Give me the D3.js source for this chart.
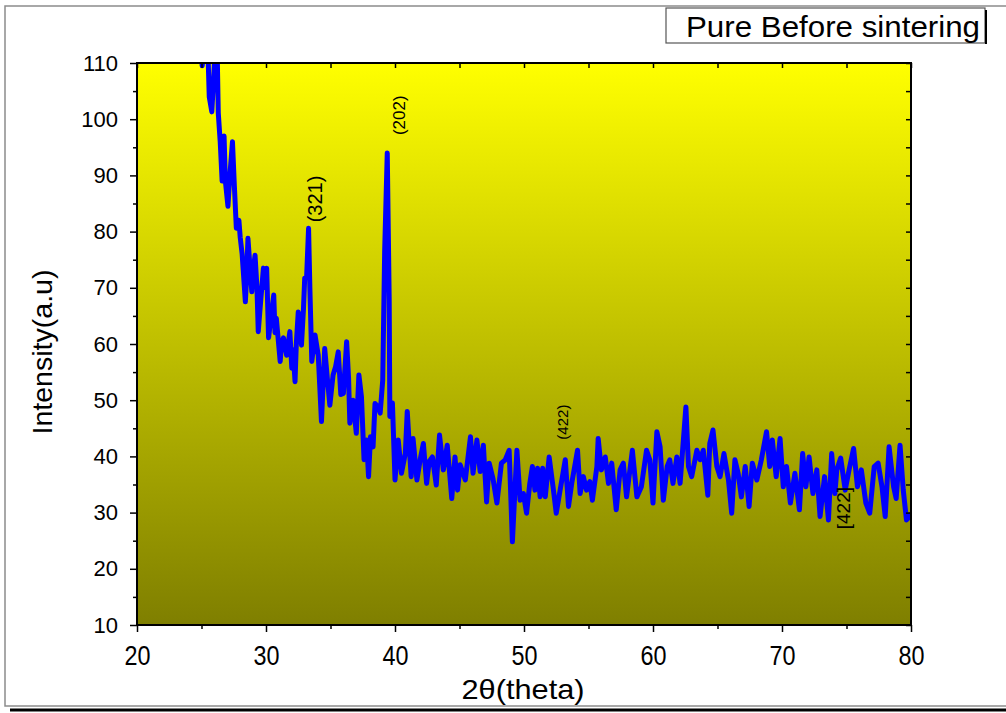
<!DOCTYPE html>
<html>
<head>
<meta charset="utf-8">
<script src="https://cdn.jsdelivr.net/npm/d3@7"></script>
<style>
  body { margin: 0; background: #fff; }
  text { font-family: "Liberation Sans", Arial, sans-serif; }
</style>
</head>
<body>
<div id="chart"></div>
<script>

// XRD scan
var twoTheta = [25.0,25.05,25.2,25.45,25.6,25.8,26.0,26.2,26.3,26.45,26.6,26.75,26.85,27.05,27.2,27.4,27.55,27.7,27.9,28.0,28.15,28.4,28.5,28.6,28.75,28.9,29.0,29.15,29.3,29.4,29.6,29.8,29.95,30.05,30.2,30.35,30.6,30.7,30.8,31.1,31.2,31.35,31.6,31.85,32.0,32.1,32.25,32.35,32.5,32.75,32.9,33.0,33.15,33.3,33.4,33.55,33.8,34.05,34.3,34.55,34.75,34.95,35.2,35.4,35.6,35.8,36.0,36.25,36.4,36.5,36.75,37.0,37.2,37.4,37.6,37.8,37.95,38.1,38.3,38.45,38.7,38.85,39.05,39.2,39.4,39.55,39.6,39.8,40.0,40.25,40.5,40.8,40.95,41.25,41.4,41.7,41.95,42.2,42.45,42.65,42.9,43.2,43.45,43.75,44.05,44.4,44.65,44.85,45.05,45.45,45.85,46.05,46.35,46.6,46.85,47.1,47.3,47.6,47.9,48.25,48.55,48.85,49.1,49.45,49.7,49.95,50.2,50.45,50.65,50.85,51.05,51.25,51.45,51.65,51.95,52.25,52.5,52.8,53.2,53.45,53.7,54.15,54.35,54.6,54.85,55.1,55.3,55.65,55.75,56.0,56.3,56.55,56.8,57.15,57.45,57.7,57.95,58.4,58.75,59.1,59.5,59.75,60.0,60.3,60.55,60.8,61.1,61.3,61.55,61.85,62.1,62.55,62.75,63.0,63.4,63.65,63.9,64.25,64.4,64.65,64.95,65.2,65.5,65.85,66.1,66.35,66.6,66.85,67.15,67.45,67.7,68.05,68.4,68.8,69.05,69.25,69.55,69.85,70.1,70.35,70.65,71.0,71.35,71.6,71.85,72.1,72.4,72.7,72.95,73.3,73.6,73.85,74.1,74.25,74.55,74.9,75.2,75.55,75.85,76.15,76.5,76.8,77.15,77.45,77.75,78.0,78.3,78.65,78.85,79.15,79.4,79.65,79.9,80.0];
var intensity = [112,109.5,112,116,104,101.3,110,114,101.1,96,89,97,89,84.5,90,96,88,80.6,82,79,76,67.5,72,78.8,74,69.3,73,75.8,70,62.2,68,73.5,70,73.5,61.1,64,68.7,62,64.6,56.9,60,61.1,58,62.2,55.7,59,53.3,60,65.7,59.8,66,71.7,72,80.6,70,56.9,61.6,58,46.2,59.2,54,49.1,54.5,56,58.6,51,51.2,60.4,54,45.9,50,44.1,54.5,50.6,39.4,42.9,36.4,43.5,41.7,49.4,48.8,47.7,53.6,76.7,94,67.9,47.1,49.5,35.8,42.9,37,40.5,48,36.4,43.2,35.8,39.4,42.3,35.2,39.1,39.9,34.9,43.8,37.6,42,32.5,39.9,34,38.5,35.8,43.5,37,42.9,37.3,42,31.9,38.8,36,31.7,38.8,39.4,41.1,24.8,41.1,32.2,33.4,29.9,35.2,38.2,34,37.9,32.8,37.9,32.8,39.9,34.6,29.9,34,39.4,31.1,35.2,41.1,33.4,36.4,34,35.5,32.2,38.2,43.2,37.6,39.9,35.2,38.8,30.5,37.6,38.8,32.8,41.1,32.8,34.6,41.1,39.4,31.7,44.4,41.7,32.2,38.2,39.4,35.2,39.9,35.2,48.8,38.2,36.4,41.1,39.4,41.1,33.1,42.3,44.7,38.2,36.4,40.5,35.8,29.9,39.4,37,32.8,38.2,31.1,38.8,35.8,39.4,44.4,38.2,42.9,36.4,43.2,34.6,38.2,31.7,37,30.5,40.5,34.6,39.9,33.4,37.6,29.3,36.4,28.7,40.5,33.4,37.6,39.7,34,37.6,41.4,34.6,37.6,31.7,29.9,38.2,38.8,34.6,29.3,41.7,34.6,32.5,42,34,28.7,29.6,29];

var xTicks = [20, 30, 40, 50, 60, 70, 80];
var yTicks = [10, 20, 30, 40, 50, 60, 70, 80, 90, 100, 110];

// peak labels (centre in data units, drawn rotated)
var peakLabels = ["(321)", "(202)", "(422)", "[422]"];
var peakX = [33.8, 40.35, 53.0, 74.75];
var peakY = [85.8, 100.7, 46.1, 30.8];
var peakSize = [20, 17, 15, 19];

var W = 1006, H = 713;
var margin = {top: 63, right: 95, bottom: 88, left: 137};
var width = W - margin.left - margin.right,
    height = H - margin.top - margin.bottom;

var svg = d3.select("#chart")
  .append("svg")
    .attr("width", W)
    .attr("height", H);

// figure frame
svg.append("path")
  .attr("d", "M1006,6 H5 V706 H1006")
  .attr("fill", "none")
  .attr("stroke", "#8c8c8c")
  .attr("stroke-width", 1.5);
svg.append("line")
  .attr("x1", 10).attr("x2", 1006).attr("y1", 710).attr("y2", 710)
  .attr("stroke", "#000").attr("stroke-width", 3);

var defs = svg.append("defs");
var grad = defs.append("linearGradient")
  .attr("id", "bg").attr("x1", 0).attr("y1", 0).attr("x2", 0).attr("y2", 1);
grad.append("stop").attr("offset", "0%").attr("stop-color", "#ffff00");
grad.append("stop").attr("offset", "100%").attr("stop-color", "#7f7f00");

defs.append("clipPath").attr("id", "clip")
  .append("rect").attr("width", width).attr("height", height);

var g = svg.append("g")
  .attr("transform", "translate(" + margin.left + "," + margin.top + ")");

var x = d3.scaleLinear().domain([20, 80]).range([0, width]);
var y = d3.scaleLinear().domain([10, 110]).range([height, 0]);

g.append("rect")
  .attr("width", width).attr("height", height)
  .attr("fill", "url(#bg)");

// the scan
var pts = twoTheta.map(function(d, i) { return [d, intensity[i]]; });
var line = d3.line()
  .x(function(d) { return x(d[0]); })
  .y(function(d) { return y(d[1]); });

g.append("path")
  .datum(pts)
  .attr("clip-path", "url(#clip)")
  .attr("fill", "none")
  .attr("stroke", "#0000ff")
  .attr("stroke-width", 5)
  .attr("stroke-linejoin", "round")
  .attr("stroke-linecap", "round")
  .attr("d", line);

// peak labels
peakLabels.forEach(function(t, i) {
  g.append("text")
    .attr("transform", "translate(" + x(peakX[i]) + "," + y(peakY[i]) + ") rotate(-90)")
    .attr("text-anchor", "middle")
    .attr("dy", "0.35em")
    .style("font-size", peakSize[i] + "px")
    .style("fill", "#000")
    .text(t);
});

// axes
var minorX = d3.range(25, 80, 10);
var minorY = d3.range(15, 110, 10);

var xAxis = g.append("g")
  .attr("transform", "translate(0," + height + ")")
  .call(d3.axisBottom(x).tickValues(xTicks).tickSize(7).tickPadding(13));
xAxis.selectAll("text")
  .style("font-size", "28px")
  .attr("textLength", 26)
  .attr("lengthAdjust", "spacingAndGlyphs");

var yAxis = g.append("g")
  .call(d3.axisLeft(y).tickValues(yTicks).tickSize(7).tickPadding(12));
yAxis.selectAll("text").style("font-size", "22px");

[xAxis, yAxis].forEach(function(a) {
  a.select(".domain").remove();
  a.selectAll("line").attr("stroke-width", 1.5);
});

function plain(s) {
  s.select(".domain").remove();
  s.selectAll("line").attr("stroke-width", 1.5);
}

g.append("g")
  .attr("transform", "translate(0," + height + ")")
  .call(d3.axisBottom(x).tickValues(minorX).tickSize(4).tickFormat(""))
  .call(plain);
g.append("g")
  .call(d3.axisLeft(y).tickValues(minorY).tickSize(4).tickFormat(""))
  .call(plain);

// top and right: inward ticks
g.append("g")
  .call(d3.axisBottom(x).tickValues(d3.range(20, 81, 5)).tickSize(5).tickFormat(""))
  .call(plain);
g.append("g")
  .attr("transform", "translate(" + width + ",0)")
  .call(d3.axisLeft(y).tickValues(d3.range(10, 111, 5)).tickSize(5).tickFormat(""))
  .call(plain);

g.append("rect")
  .attr("width", width).attr("height", height)
  .attr("fill", "none")
  .attr("stroke", "#000")
  .attr("stroke-width", 2);

// axis titles
g.append("text")
  .attr("x", 523 - margin.left)
  .attr("y", 699 - margin.top)
  .attr("text-anchor", "middle")
  .style("font-size", "28px")
  .attr("textLength", 123)
  .attr("lengthAdjust", "spacingAndGlyphs")
  .text("2\u03b8(theta)");

g.append("text")
  .attr("transform", "translate(" + (52 - margin.left) + "," + (352 - margin.top) + ") rotate(-90)")
  .attr("text-anchor", "middle")
  .style("font-size", "28px")
  .attr("textLength", 165)
  .attr("lengthAdjust", "spacingAndGlyphs")
  .text("Intensity(a.u)");

// legend box
svg.append("rect")
  .attr("x", 666).attr("y", 8)
  .attr("width", 319).attr("height", 35)
  .attr("fill", "#fff")
  .attr("stroke", "#555")
  .attr("stroke-width", 1.2);
svg.append("line")
  .attr("x1", 986).attr("x2", 986).attr("y1", 10).attr("y2", 44)
  .attr("stroke", "#000").attr("stroke-width", 2);
svg.append("text")
  .attr("x", 686).attr("y", 37)
  .style("font-size", "29px")
  .attr("textLength", 294)
  .attr("lengthAdjust", "spacingAndGlyphs")
  .text("Pure Before sintering");

</script>
</body>
</html>
